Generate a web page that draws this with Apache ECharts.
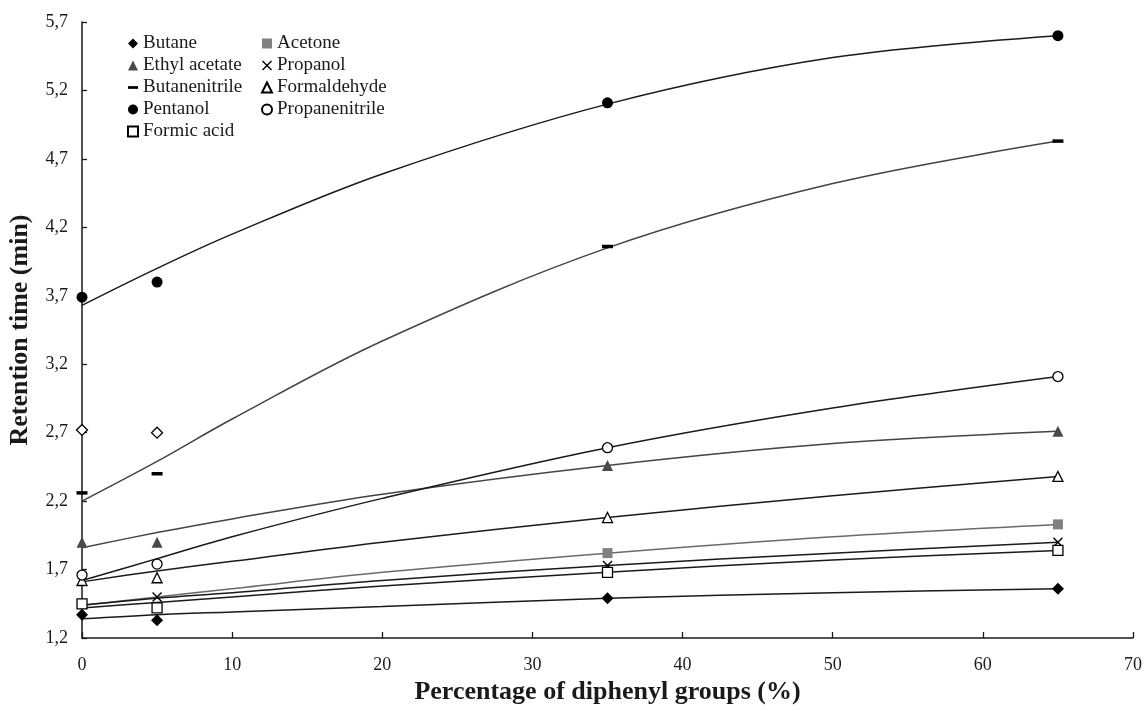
<!DOCTYPE html>
<html>
<head>
<meta charset="utf-8">
<script src="https://cdn.jsdelivr.net/npm/echarts@6/dist/echarts.min.js"></script>
<style>
  html, body { margin: 0; padding: 0; background: #fff; }
  #main { width: 1146px; height: 710px; }
</style>
</head>
<body>
<div id="main"></div>
<script>
// measured points, x = % diphenyl
const xPoints = [0, 5, 35, 65]
const butane = [1.37, 1.33, 1.49, 1.56]
const acetone = [null, null, 1.82, 2.03]
const ethylAcetate = [1.90, 1.90, 2.46, 2.71]
const propanol = [null, 1.50, 1.73, 1.90]
const butanenitrile = [2.26, 2.40, 4.06, 4.83]
const formaldehyde = [1.62, 1.64, 2.08, 2.38]
const pentanol = [3.69, 3.80, 5.11, 5.60]
const propanenitrile = [1.66, 1.74, 2.59, 3.11]
const formicAcid = [1.45, 1.42, 1.68, 1.84]
const unknownX = [0, 5]
const unknown = [2.72, 2.70]

// trend lines
const fitX = [0, 5, 10, 20, 35, 50, 65]
const fitButane = [1.34, 1.37, 1.39, 1.43, 1.49, 1.53, 1.56]
const fitAcetone = [1.44, 1.50, 1.56, 1.68, 1.82, 1.94, 2.03]
const fitEthylAcetate = [1.86, 1.97, 2.07, 2.25, 2.46, 2.62, 2.71]
const fitPropanol = [1.44, 1.49, 1.53, 1.62, 1.73, 1.82, 1.90]
const fitButanenitrile = [2.20, 2.49, 2.80, 3.37, 4.05, 4.52, 4.83]
const fitFormaldehyde = [1.61, 1.69, 1.76, 1.90, 2.08, 2.24, 2.38]
const fitPentanol = [3.63, 3.90, 4.15, 4.59, 5.10, 5.44, 5.60]
const fitPropanenitrile = [1.62, 1.78, 1.94, 2.22, 2.59, 2.88, 3.11]
const fitFormicAcid = [1.42, 1.46, 1.50, 1.58, 1.68, 1.77, 1.84]

const xTicks = { min: 0, max: 70, interval: 10 }
const yTicks = { min: 1.2, max: 5.7, interval: 0.5 }

const FONT = 'Liberation Serif'
const INK = '#1a1a1a'

const crossPath = 'path://M0,1 L1,0 L5,4 L9,0 L10,1 L6,5 L10,9 L9,10 L5,6 L1,10 L0,9 L4,5 Z'
const dashPath = 'path://M0,0 L11,0 L11,3 L0,3 Z'

function pairs(xs, ys) {
  return xs.map((x, i) => [x, ys[i]]).filter(p => p[1] != null)
}

function points(name, ys, symbol, size, fill, border, xs) {
  return {
    name: name,
    type: 'scatter',
    symbol: symbol,
    symbolSize: size,
    symbolKeepAspect: true,
    itemStyle: {
      color: fill,
      borderColor: border || fill,
      borderWidth: border ? 1.3 : 0,
      opacity: 1
    },
    z: 5,
    data: pairs(xs || xPoints, ys)
  }
}

function fit(name, ys, color) {
  return {
    name: name + ' fit',
    type: 'line',
    smooth: 0.35,
    showSymbol: false,
    silent: true,
    lineStyle: { color: color || INK, width: 1.5 },
    z: 3,
    data: pairs(fitX, ys)
  }
}

const legendText = { fontFamily: FONT, fontSize: 19, color: INK, lineHeight: 19 }

const option = {
  backgroundColor: '#fff',
  animation: false,
  grid: { left: 82, right: 13, top: 22, bottom: 72, containLabel: false, outerBoundsMode: 'none' },
  legend: [
    {
      orient: 'vertical', left: 122, top: 29,
      itemWidth: 10, itemHeight: 10, itemGap: 3,
      textStyle: legendText,
      data: ['Butane', 'Ethyl acetate', { name: 'Butanenitrile', icon: dashPath }, 'Pentanol', 'Formic acid']
    },
    {
      orient: 'vertical', left: 256, top: 29,
      itemWidth: 10, itemHeight: 10, itemGap: 3,
      textStyle: legendText,
      data: ['Acetone', 'Propanol', 'Formaldehyde', 'Propanenitrile']
    }
  ],
  xAxis: {
    type: 'value',
    min: xTicks.min, max: xTicks.max, interval: xTicks.interval,
    name: 'Percentage of diphenyl groups (%)',
    nameLocation: 'middle',
    nameGap: 33,
    nameTextStyle: { fontFamily: FONT, fontSize: 26, fontWeight: 'bold', color: INK },
    axisLine: { lineStyle: { color: INK, width: 1.5 } },
    axisTick: { inside: true, length: 6, lineStyle: { color: INK, width: 1.3 } },
    axisLabel: { fontFamily: FONT, fontSize: 18, color: INK, margin: 18 },
    splitLine: { show: false }
  },
  yAxis: {
    type: 'value',
    min: yTicks.min, max: yTicks.max, interval: yTicks.interval,
    name: 'Retention time (min)',
    nameLocation: 'middle',
    nameGap: 49,
    nameTextStyle: { fontFamily: FONT, fontSize: 26, fontWeight: 'bold', color: INK },
    axisLine: { show: true, lineStyle: { color: INK, width: 1.5 } },
    axisTick: { show: true, inside: true, length: 5, lineStyle: { color: INK, width: 1.3 } },
    axisLabel: {
      fontFamily: FONT, fontSize: 18, color: INK, margin: 14,
      formatter: v => v.toFixed(1).replace('.', ',')
    },
    splitLine: { show: false }
  },
  series: [
    fit('Butane', fitButane),
    fit('Acetone', fitAcetone, '#6a6a6a'),
    fit('Ethyl acetate', fitEthylAcetate, '#444'),
    fit('Propanol', fitPropanol),
    fit('Butanenitrile', fitButanenitrile, '#444'),
    fit('Formaldehyde', fitFormaldehyde),
    fit('Pentanol', fitPentanol),
    fit('Propanenitrile', fitPropanenitrile),
    fit('Formic acid', fitFormicAcid),
    points('Butane', butane, 'diamond', 12, '#000'),
    points('Acetone', acetone, 'rect', 10, '#808080'),
    points('Ethyl acetate', ethylAcetate, 'triangle', 11, '#4a4a4a'),
    points('Propanol', propanol, crossPath, 10, '#000'),
    points('Butanenitrile', butanenitrile, 'rect', [11, 3.5], '#000'),
    points('Formaldehyde', formaldehyde, 'triangle', 10, '#fff', '#000'),
    points('Pentanol', pentanol, 'circle', 11, '#000'),
    points('Propanenitrile', propanenitrile, 'circle', 10, '#fff', '#000'),
    points('Formic acid', formicAcid, 'rect', 10, '#fff', '#000'),
    points('unlabeled', unknown, 'diamond', 11, '#fff', '#000', unknownX)
  ]
}

const chart = echarts.init(document.getElementById('main'), null, { renderer: 'canvas' })
chart.setOption(option)
</script>
</body>
</html>
